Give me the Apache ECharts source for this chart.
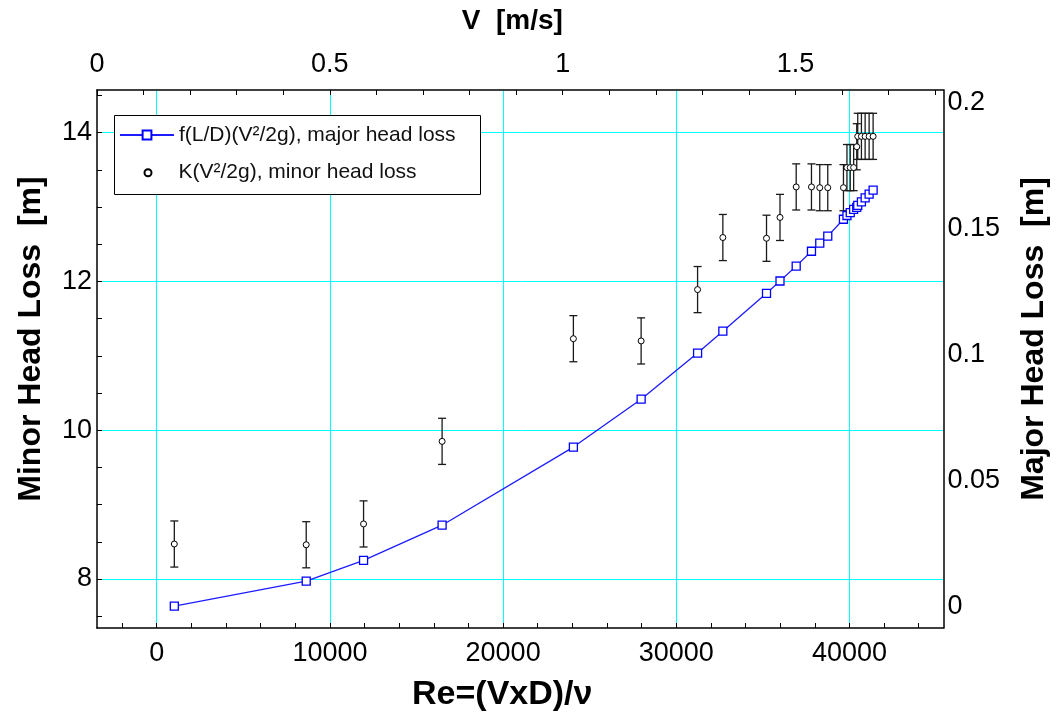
<!DOCTYPE html>
<html>
<head>
<meta charset="utf-8">
<script src="https://cdn.jsdelivr.net/npm/echarts@6/dist/echarts.min.js"></script>
<style>
html,body{margin:0;padding:0;background:#fff;}
#chart{width:1058px;height:720px;}
</style>
</head>
<body>
<div id="chart"></div>
<script>
// ---- data ----
const reynolds = [1015, 8631, 11942, 16477, 24058, 27970, 31230, 32689, 35210, 35989, 36924, 37806, 38285, 38747, 39653, 39855, 40045, 40241, 40420, 40478, 40691, 40905, 41135, 41366];
const majorLoss = [0.0, 0.0099, 0.0181, 0.0321, 0.0631, 0.0821, 0.1004, 0.1091, 0.1241, 0.1290, 0.1349, 0.1408, 0.1440, 0.1468, 0.1535, 0.1550, 0.1561, 0.1574, 0.1582, 0.1590, 0.1604, 0.1620, 0.1635, 0.1651];
const minorLoss = [8.47, 8.46, 8.74, 9.85, 11.23, 11.20, 11.89, 12.59, 12.58, 12.86, 13.27, 13.27, 13.26, 13.26, 13.26, 13.53, 13.53, 13.53, 13.81, 13.95, 13.95, 13.95, 13.95, 13.95];
const minorErr = [0.31, 0.31, 0.31, 0.31, 0.31, 0.31, 0.31, 0.31, 0.31, 0.31, 0.31, 0.31, 0.31, 0.31, 0.31, 0.31, 0.31, 0.31, 0.31, 0.31, 0.31, 0.31, 0.31, 0.31];

const reLabelTicks = [0, 10000, 20000, 30000, 40000];
const reAllTicks = [-2000, 0, 2000, 4000, 6000, 8000, 10000, 12000, 14000, 16000, 18000, 20000, 22000, 24000, 26000, 28000, 30000, 32000, 34000, 36000, 38000, 40000, 42000, 44000];
const vLabelTicks = [0, 0.5, 1, 1.5];
const vAllTicks = [0, 0.1, 0.2, 0.3, 0.4, 0.5, 0.6, 0.7, 0.8, 0.9, 1.0, 1.1, 1.2, 1.3, 1.4, 1.5, 1.6, 1.7, 1.8];
const minorLabelTicks = [8, 10, 12, 14];
const minorAllTicks = [7.5, 8, 8.5, 9, 9.5, 10, 10.5, 11, 11.5, 12, 12.5, 13, 13.5, 14, 14.5];
const majorLabelTicks = [0, 0.05, 0.1, 0.15, 0.2];

const majorName = 'f(L/D)(V\u00B2/2g), major head loss';
const minorName = 'K(V\u00B2/2g), minor head loss';

// ---- build ----
const FONT = 'Liberation Sans, Arial, sans-serif';
const majorData = reynolds.map((r, i) => [r, majorLoss[i]]);
const minorData = reynolds.map((r, i) => [r, minorLoss[i]]);
const errData = reynolds.map((r, i) => [r, minorLoss[i], minorErr[i]]);

const RE_MIN = -3450, RE_MAX = 45430;
const V_MIN = 0, V_MAX = 1.8176;
const MIN_MIN = 7.341, MIN_MAX = 14.573;
const MAJ_MIN = -0.0087, MAJ_MAX = 0.2048;

const GRID_COLOR = '#00ffff';
const tickLabelStyle = { fontFamily: FONT, fontSize: 27, color: '#000' };
const titleStyle = { fontFamily: FONT, fontWeight: 'bold', color: '#000' };
const axisLineStyle = { show: true, onZero: false, lineStyle: { color: '#000', width: 1.5 } };
const inTick = (vals) => ({ show: true, inside: true, length: 5, customValues: vals, lineStyle: { color: '#000', width: 1 } });
const noSplit = { show: false };
const fmt = (v) => String(v);

const chart = echarts.init(document.getElementById('chart'), null, { renderer: 'canvas' });
chart.setOption({
  animation: false,
  backgroundColor: '#fff',
  grid: { left: 97, right: 114.5, top: 90, bottom: 92, containLabel: false, outerBoundsMode: 'none' },
  graphic: [{
    type: 'rect', z: 3, left: 114, top: 115,
    shape: { width: 366, height: 79 },
    style: { fill: '#fff', stroke: '#000', lineWidth: 1 }
  }],
  legend: [
    { data: [majorName], orient: 'vertical', left: 119, top: 123, padding: 0, itemWidth: 54, itemHeight: 11,
      selectedMode: false, z: 5,
      textStyle: { fontFamily: FONT, fontSize: 21, color: '#111', lineHeight: 24 } },
    { data: [minorName], orient: 'vertical', left: 143.5, top: 160.7, padding: 0, itemWidth: 7, itemHeight: 7,
      selectedMode: false, z: 5,
      textStyle: { fontFamily: FONT, fontSize: 21, color: '#111', lineHeight: 24, padding: [0, 0, 0, 22] } }
  ],
  xAxis: [
    { type: 'value', position: 'bottom', min: RE_MIN, max: RE_MAX,
      name: 'Re=(VxD)/\u03BD', nameLocation: 'middle', nameGap: 50,
      nameTextStyle: Object.assign({ fontSize: 34, padding: [0, 36, 0, 0] }, titleStyle),
      axisLine: axisLineStyle, axisTick: inTick(reAllTicks),
      axisLabel: Object.assign({ customValues: reLabelTicks, margin: 12, formatter: fmt }, tickLabelStyle),
      splitLine: noSplit, minorSplitLine: noSplit },
    { type: 'value', position: 'top', min: V_MIN, max: V_MAX,
      name: 'V  [m/s]', nameLocation: 'middle', nameGap: 55,
      nameTextStyle: Object.assign({ fontSize: 28, padding: [0, 16, 0, 0] }, titleStyle),
      axisLine: axisLineStyle, axisTick: inTick(vAllTicks),
      axisLabel: Object.assign({ customValues: vLabelTicks, margin: 12, formatter: fmt }, tickLabelStyle),
      splitLine: noSplit, minorSplitLine: noSplit },
    { type: 'value', position: 'bottom', min: RE_MIN, max: RE_MAX,
      axisLine: { show: false, onZero: false }, axisLabel: { show: false },
      axisTick: { show: false, customValues: reLabelTicks },
      splitLine: { show: true, lineStyle: { color: GRID_COLOR, width: 1 } } }
  ],
  yAxis: [
    { type: 'value', position: 'left', min: MIN_MIN, max: MIN_MAX,
      name: 'Minor Head Loss  [m]', nameLocation: 'middle', nameGap: 50, nameRotate: 90,
      nameTextStyle: Object.assign({ fontSize: 32, padding: [0, 0, 0, 40] }, titleStyle),
      axisLine: axisLineStyle, axisTick: inTick(minorAllTicks),
      axisLabel: Object.assign({ customValues: minorLabelTicks, margin: 5, formatter: fmt }, tickLabelStyle),
      splitLine: noSplit, minorSplitLine: noSplit },
    { type: 'value', position: 'right', min: MAJ_MIN, max: MAJ_MAX,
      name: 'Major Head Loss  [m]', nameLocation: 'middle', nameGap: 75, nameRotate: 90,
      nameTextStyle: Object.assign({ fontSize: 32, padding: [0, 0, 0, 40] }, titleStyle),
      axisLine: axisLineStyle, axisTick: { show: false },
      axisLabel: Object.assign({ customValues: majorLabelTicks, margin: 4, formatter: fmt }, tickLabelStyle),
      splitLine: noSplit, minorSplitLine: noSplit },
    { type: 'value', position: 'left', min: MIN_MIN, max: MIN_MAX,
      axisLine: { show: false, onZero: false }, axisLabel: { show: false },
      axisTick: { show: false, customValues: minorLabelTicks },
      splitLine: { show: true, lineStyle: { color: GRID_COLOR, width: 1 } } }
  ],
  series: [
    { type: 'custom', name: 'err', xAxisIndex: 0, yAxisIndex: 0, z: 2, silent: true,
      data: errData, encode: { x: 0, y: 1 },
      renderItem: function (params, api) {
        const x = api.value(0), y = api.value(1), e = api.value(2);
        const t = api.coord([x, y + e]);
        const b = api.coord([x, y - e]);
        const hw = 4;
        const st = { stroke: '#1a1a1a', lineWidth: 1.3 };
        return { type: 'group', children: [
          { type: 'line', shape: { x1: t[0], y1: t[1], x2: b[0], y2: b[1] }, style: st },
          { type: 'line', shape: { x1: t[0] - hw, y1: t[1], x2: t[0] + hw, y2: t[1] }, style: st },
          { type: 'line', shape: { x1: b[0] - hw, y1: b[1], x2: b[0] + hw, y2: b[1] }, style: st }
        ] };
      } },
    { type: 'line', name: majorName, xAxisIndex: 0, yAxisIndex: 1, z: 3,
      data: majorData, symbol: 'rect', symbolSize: 8, showAllSymbol: true,
      lineStyle: { color: '#1c1cff', width: 1.3 },
      itemStyle: { color: '#fff', borderColor: '#0000ff', borderWidth: 1.3 } },
    { type: 'scatter', name: minorName, xAxisIndex: 0, yAxisIndex: 0, z: 4,
      data: minorData, symbol: 'circle', symbolSize: 6,
      itemStyle: { color: '#fff', borderColor: '#000', borderWidth: 1, opacity: 1 } }
  ]
});
</script>
</body>
</html>
